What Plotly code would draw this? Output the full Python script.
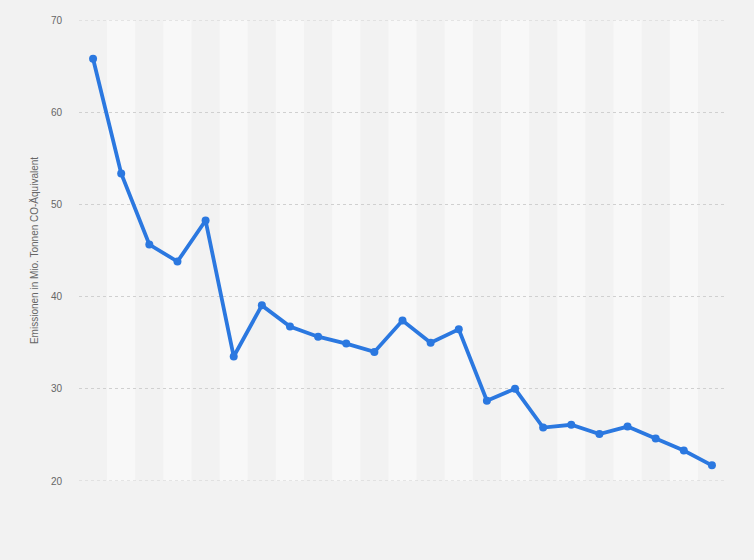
import plotly.graph_objects as go

years = [str(y) for y in range(2000, 2023)]
emissions = [65.8, 53.35, 45.65, 43.8, 48.25, 33.5, 39.05, 36.75, 35.65, 34.9,
             34.0, 37.4, 35.0, 36.45, 28.7, 30.0, 25.8, 26.1, 25.1, 25.9,
             24.6, 23.3, 21.7]
y_ticks = [20, 30, 40, 50, 60, 70]

y_title = "Emissionen in Mio. Tonnen CO-Äquivalent"

fig = go.Figure()
fig.add_trace(go.Scatter(
    x=list(range(len(years))), y=emissions, mode="lines+markers",
    line=dict(color="#2b78e0", width=3.8),
    marker=dict(color="#2b78e0", size=8),
    hoverinfo="x+y",
))

shapes = []
for i in range(len(years)):
    if i % 2 == 1:
        shapes.append(dict(type="rect", xref="x", yref="paper",
                           x0=i - 0.5, x1=i + 0.5, y0=0, y1=1,
                           fillcolor="#f8f8f8", line=dict(width=0), layer="below"))
for t in (y_ticks[0], y_ticks[-1]):
    shapes.append(dict(type="line", xref="paper", yref="y", x0=0, x1=1, y0=t, y1=t,
                       line=dict(color="#d0d0d0", width=1, dash="dot"), layer="below"))

fig.update_layout(
    width=754, height=560,
    paper_bgcolor="#f2f2f2", plot_bgcolor="#f2f2f2",
    margin=dict(l=79, r=28, t=20, b=79),
    font=dict(family="Liberation Sans, Arial, sans-serif", size=10, color="#666666"),
    showlegend=False,
    shapes=shapes,
    xaxis=dict(range=[-0.5, len(years) - 0.5], showgrid=False, zeroline=False,
               showticklabels=False, ticks="", showline=False,
               tickvals=list(range(len(years))), ticktext=years),
    yaxis=dict(range=[20, 70], tickvals=y_ticks, showgrid=True,
               gridcolor="#d0d0d0", griddash="dot", gridwidth=1,
               zeroline=False, showline=False,
               ticks="outside", ticklen=14, tickcolor="rgba(0,0,0,0)",
               tickfont=dict(size=10, color="#666666"),
               title=dict(text=y_title, font=dict(size=10, color="#666666"), standoff=10)),
)

fig.write_html("out.html", config={"displayModeBar": False},
               post_script="document.body.style.margin='0';document.body.style.background='#f2f2f2';")
